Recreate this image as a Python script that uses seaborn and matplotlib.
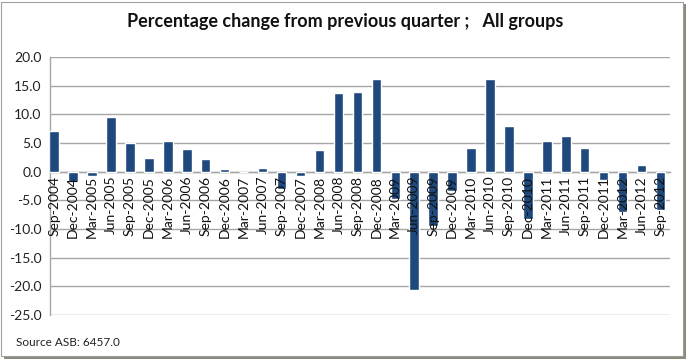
import numpy as np
import pandas as pd
import seaborn as sns
import matplotlib.pyplot as plt
from matplotlib.patches import Rectangle

quarters = ['Sep-2004', 'Dec-2004', 'Mar-2005', 'Jun-2005', 'Sep-2005', 'Dec-2005',
            'Mar-2006', 'Jun-2006', 'Sep-2006', 'Dec-2006', 'Mar-2007', 'Jun-2007',
            'Sep-2007', 'Dec-2007', 'Mar-2008', 'Jun-2008', 'Sep-2008', 'Dec-2008',
            'Mar-2009', 'Jun-2009', 'Sep-2009', 'Dec-2009', 'Mar-2010', 'Jun-2010',
            'Sep-2010', 'Dec-2010', 'Mar-2011', 'Jun-2011', 'Sep-2011', 'Dec-2011',
            'Mar-2012', 'Jun-2012', 'Sep-2012']
pct_change = [7.1, -1.8, -0.8, 9.5, 5.0, 2.4,
              5.3, 3.9, 2.2, 0.4, 0.0, 0.7,
              -3.0, -0.8, 3.8, 13.7, 13.9, 16.1,
              -4.7, -20.6, -9.5, -3.4, 4.1, 16.2,
              7.9, -8.2, 5.3, 6.3, 4.1, -1.5,
              -7.1, 1.1, -6.7]
y_ticks = [20, 15, 10, 5, 0, -5, -10, -15, -20, -25]

df = pd.DataFrame({'quarter': quarters, 'pct': pct_change})

sns.set_style('white')
plt.rcParams['font.family'] = ['Lato', 'DejaVu Sans']

fig = plt.figure(figsize=(6.9, 3.61), dpi=100)
fig.patch.set_facecolor('white')
# frame with a little shadow, like the pasted excel chart
fig.patches.append(Rectangle((4 / 690, 2 / 361), 682 / 690, 355 / 361, transform=fig.transFigure,
                             facecolor='#8a8a7a', edgecolor='none', zorder=-2))
fig.patches.append(Rectangle((1 / 690, 5 / 361), 682 / 690, 354 / 361, transform=fig.transFigure,
                             facecolor='white', edgecolor='#a0a0a0', linewidth=0.8, zorder=-1))

ax = fig.add_axes([50 / 690, 1 - 315 / 361, 620 / 690, 258 / 361])
ax.set_zorder(5)
ax.set_facecolor('none')
sns.barplot(data=df, x='quarter', y='pct', color='#1f497d', width=0.5,
            saturation=1, ax=ax, zorder=3)

ax.set_ylim(-25, 20)
ax.set_xlim(-0.22, 32.25)
ax.set_yticks(y_ticks)
ax.set_yticklabels([f'{v:.1f}' for v in y_ticks], fontsize=10, color='#222222')
ax.yaxis.grid(True, color='#a6a6a6', linewidth=1.0)
ax.yaxis.set_zorder(1)
ax.tick_params(axis='y', length=0, pad=6)

for s in ['top', 'right']:
    ax.spines[s].set_visible(False)
ax.spines['left'].set_color('#a6a6a6')
ax.spines['left'].set_linewidth(1.0)
ax.spines['bottom'].set_position(('data', 0))
ax.spines['bottom'].set_color('#a6a6a6')
ax.spines['bottom'].set_linewidth(1.0)
ax.spines['bottom'].set_zorder(2)

ax.set_xticks(range(len(quarters)))
ax.set_xticklabels(quarters, rotation=90, fontsize=10, color='#111111')
ax.tick_params(axis='x', length=0, pad=3)
ax.set_xticks(np.arange(len(quarters)) + 0.5, minor=True)
ax.tick_params(axis='x', which='minor', length=4, direction='inout', color='#a6a6a6')
# category labels sit on top of the bars, as in the excel original
ax.xaxis.set_zorder(4)
ax.set_xlabel('')
ax.set_ylabel('')

fig.text(0.5, 1 - 22 / 361, 'Percentage change from previous quarter ;   All groups',
         ha='center', va='center', fontsize=13, fontweight='bold', color='#111111')
fig.text(16 / 690, 1 - 343 / 361, 'Source ASB: 6457.0', ha='left', va='center',
         fontsize=8.5, color='#222222')

fig.savefig('out.png', dpi=100, facecolor='white')
